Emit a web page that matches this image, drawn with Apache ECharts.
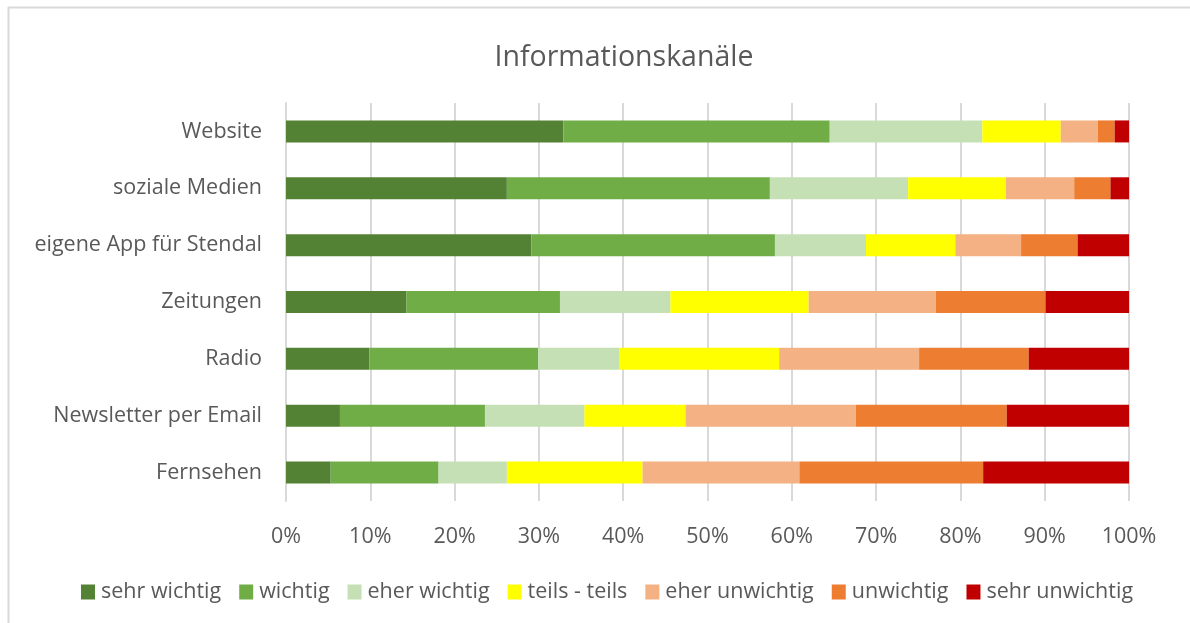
<!DOCTYPE html>
<html>
<head>
<meta charset="utf-8">
<script src="https://cdn.jsdelivr.net/npm/echarts@6/dist/echarts.min.js"></script>
<style>
    html, body { margin: 0; padding: 0; background: #fff; }
    #chart { width: 1190px; height: 623px; }
</style>
</head>
<body>
<div id="chart"></div>
<script>
// Kategorien (von oben nach unten)
var categories = ["Website", "soziale Medien", "eigene App für Stendal", "Zeitungen", "Radio", "Newsletter per Email", "Fernsehen"];
var seriesNames = ["sehr wichtig", "wichtig", "eher wichtig", "teils - teils", "eher unwichtig", "unwichtig", "sehr unwichtig"];
var xTicks = [0, 10, 20, 30, 40, 50, 60, 70, 80, 90, 100];

// Anteile in %, je Kategorie in der Reihenfolge oben
var sehrWichtig   = [32.9, 26.2, 29.1, 14.3, 9.9, 6.4, 5.3];
var wichtig       = [31.6, 31.2, 28.9, 18.2, 20.0, 17.2, 12.8];
var eherWichtig   = [18.1, 16.4, 10.8, 13.1, 9.6, 11.8, 8.1];
var teilsTeils    = [9.3, 11.6, 10.6, 16.4, 19.0, 12.0, 16.1];
var eherUnwichtig = [4.4, 8.1, 7.8, 15.1, 16.6, 20.2, 18.6];
var unwichtig     = [2.0, 4.3, 6.7, 13.0, 13.0, 17.9, 21.8];
var sehrUnwichtig = [1.7, 2.2, 6.1, 9.9, 11.9, 14.5, 17.3];

var values = [sehrWichtig, wichtig, eherWichtig, teilsTeils, eherUnwichtig, unwichtig, sehrUnwichtig];
var colors = ["#548235", "#70ad47", "#c5e0b4", "#ffff00", "#f4b183", "#ed7d31", "#c00000"];

var font = "'Open Sans', 'Noto Sans', sans-serif";
var textColor = "#595959";

var myChart = echarts.init(document.getElementById("chart"));

var series = [];
for (var i = 0; i < seriesNames.length; i++) {
    series.push({
        name: seriesNames[i],
        type: "bar",
        stack: "total",
        barWidth: 22,
        data: values[i],
        itemStyle: { color: colors[i] },
        emphasis: { disabled: true }
    });
}

var option = {
    animation: false,
    backgroundColor: "#fff",
    textStyle: { fontFamily: font },
    title: {
        text: "Informationskanäle",
        left: 619,
        textAlign: "center",
        top: 38,
        textStyle: { fontFamily: font, fontSize: 28.5, fontWeight: "normal", color: textColor }
    },
    graphic: [{
        type: "rect",
        shape: { x: 8.5, y: 7.5, width: 1400, height: 800 },
        style: { fill: "none", stroke: "#d9d9d9", lineWidth: 2 },
        silent: true
    }],
    legend: {
        data: seriesNames,
        top: 576,
        left: 76,
        itemWidth: 14,
        itemHeight: 15,
        itemGap: 18,
        icon: "rect",
        textStyle: { fontFamily: font, fontSize: 21.5, color: textColor, padding: [0, 0, 0, 1] }
    },
    grid: {
        left: 286,
        right: 61,
        top: 103,
        bottom: 122,
        containLabel: false
    },
    xAxis: {
        type: "value",
        min: 0,
        max: 100,
        interval: 10,
        axisLine: { show: false },
        axisTick: { show: false },
        splitLine: { lineStyle: { color: "#d9d9d9", width: 2 } },
        axisLabel: {
            margin: 25,
            fontSize: 21.5,
            color: textColor,
            fontFamily: font,
            formatter: function (v) { return xTicks.indexOf(v) >= 0 ? v + "%" : ""; }
        }
    },
    yAxis: {
        type: "category",
        inverse: true,
        data: categories,
        axisLine: { show: true, lineStyle: { color: "#d9d9d9", width: 2 } },
        axisTick: { show: false },
        axisLabel: { margin: 24, fontSize: 21.5, color: textColor, fontFamily: font }
    },
    series: series
};

myChart.setOption(option);
</script>
</body>
</html>
